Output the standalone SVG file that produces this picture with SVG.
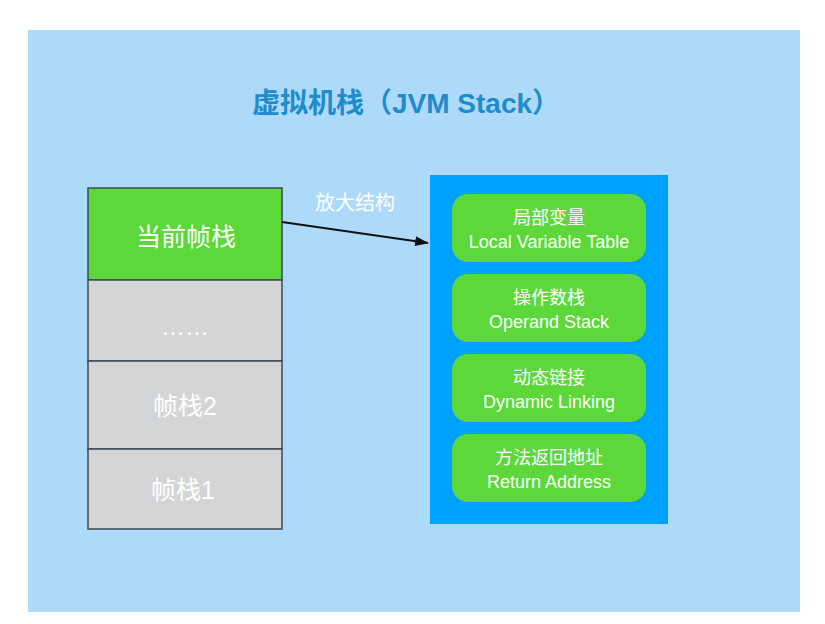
<svg xmlns="http://www.w3.org/2000/svg" width="825" height="624" viewBox="0 0 825 624">
<defs>
<style>
.t{font-family:"Liberation Sans","Noto Sans CJK SC",sans-serif;fill:#fff;text-anchor:middle;dominant-baseline:central}
.frame{stroke:#3a4a55;stroke-width:1.5}
.item{fill:#5DD83A}
.it{font-size:18px}
</style>
<marker id="ah" viewBox="0 0 14 10" refX="13" refY="5" markerWidth="14" markerHeight="10" markerUnits="userSpaceOnUse" orient="auto"><path d="M0,0 L14,5 L0,10 z" fill="#111"/></marker>
</defs>
<rect width="825" height="624" fill="#fff"/>
<rect x="28" y="30" width="772" height="582" fill="#ADDAFB"/>
<text class="t" x="406" y="103" style="font-size:28px;font-weight:bold;fill:#1E8BCB">虚拟机栈（JVM Stack）</text>
<g id="current"><rect class="frame" x="88" y="188" width="194" height="92" fill="#5DD83A"/><text class="t" x="186" y="237" style="font-size:25px">当前帧栈</text></g>
<g id="dots"><rect class="frame" x="88" y="280" width="194" height="81" fill="#D4D5D6"/><text class="t" x="185" y="326" style="font-size:24px">……</text></g>
<g id="frame2"><rect class="frame" x="88" y="361" width="194" height="88" fill="#D4D5D6"/><text class="t" x="185" y="406" style="font-size:25px">帧栈2</text></g>
<g id="frame1"><rect class="frame" x="88" y="449" width="194" height="80" fill="#D4D5D6"/><text class="t" x="183" y="490" style="font-size:25px">帧栈1</text></g>
<g id="detail">
<rect x="430" y="175" width="238" height="349" fill="#00A2FF"/>
<g id="lvt"><rect class="item" x="452" y="194" width="194" height="68" rx="16"/><text class="t it" x="549" y="218">局部变量</text><text class="t it" x="549" y="242">Local Variable Table</text></g>
<g id="ops"><rect class="item" x="452" y="274" width="194" height="68" rx="16"/><text class="t it" x="549" y="298">操作数栈</text><text class="t it" x="549" y="322">Operand Stack</text></g>
<g id="dyn"><rect class="item" x="452" y="354" width="194" height="68" rx="16"/><text class="t it" x="549" y="378">动态链接</text><text class="t it" x="549" y="402">Dynamic Linking</text></g>
<g id="ret"><rect class="item" x="452" y="434" width="194" height="68" rx="16"/><text class="t it" x="549" y="458">方法返回地址</text><text class="t it" x="549" y="482">Return Address</text></g>
</g>
<g id="connectors">
<line x1="282" y1="222" x2="428" y2="243" stroke="#111" stroke-width="2" marker-end="url(#ah)"/>
<text class="t" x="355" y="203" style="font-size:20px">放大结构</text>
</g>
</svg>
